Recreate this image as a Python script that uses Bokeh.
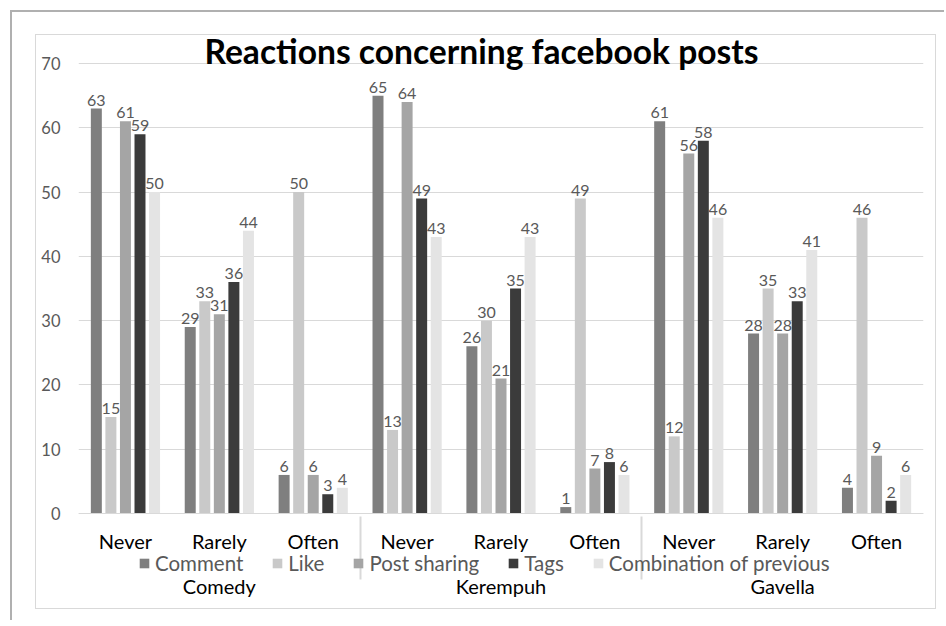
from bokeh.plotting import figure
from bokeh.models import (FactorRange, Range1d, Legend, LegendItem, Label,
                          ColumnDataSource, FixedTicker)
from bokeh.transform import dodge
from bokeh.core.properties import value
from bokeh.embed import file_html
from bokeh.resources import INLINE

# ---- data ----
groups = ["Comedy", "Kerempuh", "Gavella"]
frequencies = ["Never", "Rarely", "Often"]
series = ["Comment", "Like", "Post sharing", "Tags", "Combination of previous"]
colors = ["#7f7f7f", "#c9c9c9", "#a5a5a5", "#3b3b3b", "#e4e4e4"]

comment = [63, 29, 6, 65, 26, 1, 61, 28, 4]
like = [15, 33, 50, 13, 30, 49, 12, 35, 46]
post_sharing = [61, 31, 6, 64, 21, 7, 56, 28, 9]
tags = [59, 36, 3, 49, 35, 8, 58, 33, 2]
combination = [50, 44, 4, 43, 43, 6, 46, 41, 6]
y_ticks = [0, 10, 20, 30, 40, 50, 60, 70]
title_text = "Reactions concerning facebook posts"

values = [comment, like, post_sharing, tags, combination]
factors = [(g, " ", f) for g in groups for f in frequencies]

FONT = "Lato"

data = {"x": factors}
for i, vals in enumerate(values):
    data[f"s{i}"] = vals
    data[f"t{i}"] = [str(v) for v in vals]
src = ColumnDataSource(data)

p = figure(
    title=None,
    x_range=FactorRange(*factors, factor_padding=0, group_padding=0,
                        subgroup_padding=0, range_padding=0),
    y_range=Range1d(-14.62, 76.69),
    width=944, height=620,
    output_backend="svg", toolbar_location=None,
    min_border_left=78, min_border_right=21, min_border_top=20, min_border_bottom=13,
)
# chart-area frames (outer dark-grey border, inner light-grey border) drawn behind
# a transparent canvas
outer_c = "linear-gradient(#b0b0b0, #b0b0b0)"
inner_c = "linear-gradient(#d9d9d9, #d9d9d9)"
p.styles = {
    "background-color": "white",
    "background-image": ", ".join([outer_c, outer_c, inner_c, inner_c, inner_c, inner_c]),
    "background-position": "10px 10px, 10px 10px, 35px 34px, 35px 608px, 35px 34px, 935px 34px",
    "background-size": "100% 2px, 2px 100%, 901px 1px, 901px 1px, 1px 575px, 1px 575px",
    "background-repeat": "no-repeat",
}
p.outline_line_color = None
p.background_fill_color = None
p.border_fill_color = None

# y axis
ya = p.yaxis[0]
ya.ticker = FixedTicker(ticks=y_ticks)
ya.axis_line_color = None
ya.major_tick_line_color = None
ya.minor_tick_line_color = None
ya.major_tick_out = 0
ya.major_tick_in = 0
ya.major_label_text_font = FONT
ya.major_label_text_font_size = "16.5px"
ya.major_label_text_color = "#595959"
ya.major_label_standoff = 18
p.ygrid.grid_line_color = "#d9d9d9"
p.xgrid.grid_line_color = None

# x axis (drawn at y = 0 inside the frame)
xa = p.xaxis[0]
xa.fixed_location = 0
xa.axis_line_color = "#d9d9d9"
xa.major_tick_line_color = None
xa.minor_tick_line_color = None
xa.major_tick_out = 15
xa.major_tick_in = 0
xa.major_label_standoff = 0
xa.major_label_text_font = FONT
xa.major_label_text_font_size = "20px"
xa.major_label_text_color = "black"
xa.subgroup_text_font = FONT
xa.subgroup_text_font_size = "12px"
xa.subgroup_text_color = "white"
xa.group_text_font = FONT
xa.group_text_font_size = "20px"
xa.group_text_color = "black"
xa.group_text_font_style = "normal"
xa.subgroup_text_font_style = "normal"
xa.separator_line_color = "#d9d9d9"

offsets = [-0.31, -0.155, 0.0, 0.155, 0.31]
items = []
for i, name in enumerate(series):
    r = p.vbar(x=dodge("x", offsets[i], range=p.x_range), top=f"s{i}", width=0.117,
               source=src, fill_color=colors[i], line_color=None)
    p.text(x=dodge("x", offsets[i], range=p.x_range), y=f"s{i}", text=f"t{i}",
           source=src, text_align="center", text_baseline="bottom", y_offset=-3,
           text_font=value(FONT), text_font_size="16px", text_color="#595959")
    items.append(LegendItem(label=name, renderers=[r]))

legend = Legend(items=items, orientation="horizontal", location=(60, 32),
                label_text_font=FONT, label_text_font_size="20.5px",
                label_text_color="#595959", glyph_width=12, glyph_height=12,
                label_standoff=5, spacing=28, padding=0, margin=0,
                border_line_color=None, background_fill_alpha=0)
p.add_layout(legend, "center")

title = Label(x=403, y=557, x_units="screen", y_units="screen", text=title_text,
              text_align="center", text_baseline="alphabetic",
              text_font=FONT, text_font_style="bold", text_font_size="33.6px",
              text_color="black")
p.add_layout(title)

open("out.html", "w").write(file_html(p, INLINE))
